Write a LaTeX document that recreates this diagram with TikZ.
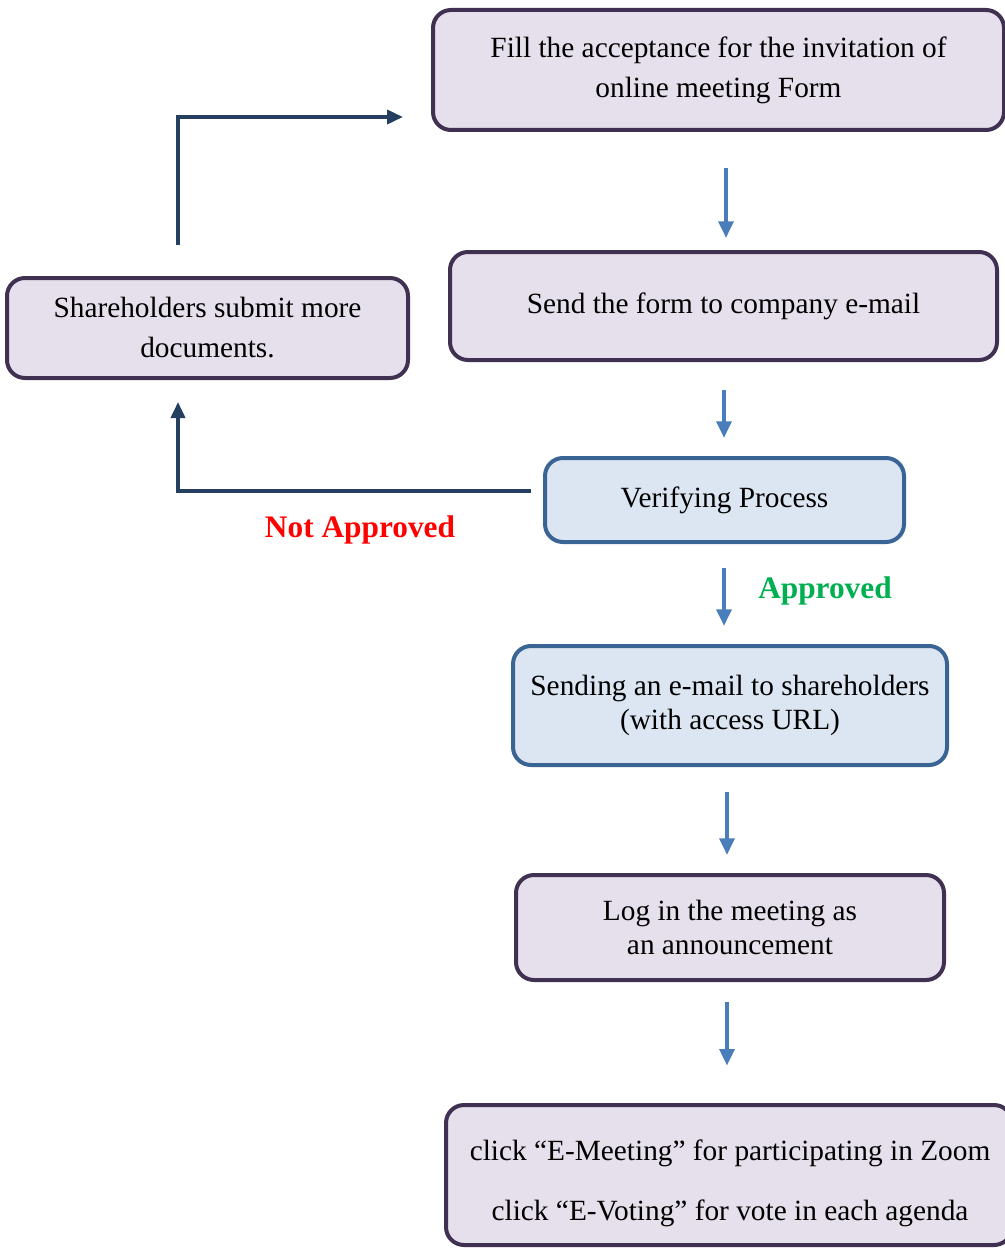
\documentclass[tikz,border=0pt]{standalone}
\usepackage{fontspec}
\setmainfont{Liberation Serif}
\usetikzlibrary{arrows.meta}
\definecolor{pborder}{HTML}{403152}
\definecolor{pfill}{HTML}{E5E0EC}
\definecolor{bborder}{HTML}{3A6494}
\definecolor{bfill}{HTML}{DCE6F2}
\definecolor{barrowc}{HTML}{4A7EBB}
\definecolor{navy}{HTML}{243F60}
\definecolor{okgreen}{HTML}{00B050}
\tikzset{
  pbox/.style={draw=pborder, fill=pfill, line width=3pt, rounded corners=13.5pt, align=center, inner sep=0pt, font=\fontsize{22}{30}\selectfont},
  bbox/.style={draw=bborder, fill=bfill, line width=3pt, rounded corners=13.5pt, align=center, inner sep=0pt, font=\fontsize{22}{30}\selectfont},
  barrow/.style={draw=barrowc, fill=barrowc, line width=3pt, -{Triangle[width=11pt,length=12.5pt]}},
  narrow/.style={draw=navy, line width=2.8pt, -{Triangle[width=10.5pt,length=12pt]}},
  lbl/.style={font=\fontsize{23.5}{28}\selectfont\bfseries, inner sep=0pt}
}
\begin{document}
\begin{tikzpicture}[x=0.75pt,y=-0.75pt]
\useasboundingbox (0,0) rectangle (1005,1248);
% boxes
\node[pbox, minimum width=571*0.75pt, minimum height=120*0.75pt] (fill) at (718.5,70) {Fill the acceptance for the invitation of\\online meeting Form};
\node[pbox, minimum width=547*0.75pt, minimum height=108*0.75pt] (send) at (723.5,306) {Send the form to company e-mail};
\node[pbox, minimum width=401*0.75pt, minimum height=100*0.75pt] (share) at (207.5,328) {Shareholders submit more\\documents.};
\node[bbox, minimum width=359*0.75pt, minimum height=84*0.75pt] (verify) at (724.5,500) {Verifying Process};
\node[bbox, minimum width=434*0.75pt, minimum height=119*0.75pt, font=\fontsize{22}{25.5}\selectfont] (mail) at (730,705.5) {Sending an e-mail to shareholders\\(with access URL)};
\node[pbox, minimum width=428*0.75pt, minimum height=105*0.75pt, font=\fontsize{22}{25}\selectfont] (login) at (730,927.5) {Log in the meeting as\\an announcement};
\node[pbox, minimum width=566*0.75pt, minimum height=140*0.75pt] (click) at (729,1175) {};
\node[align=center, inner sep=0pt, font=\fontsize{22}{45}\selectfont] (clicktxt) at (730,1183) {click “E-Meeting” for participating in Zoom\\click “E-Voting” for vote in each agenda};
% helper x-coordinates
\coordinate (x726) at (726,0);
\coordinate (x724) at (724,0);
\coordinate (x727) at (727,0);
\coordinate (x178) at (178,0);
% blue arrows
\draw[barrow, shorten <=27pt, shorten >=9pt] (fill.south -| x726) -- (send.north -| x726);
\draw[barrow, shorten <=21pt, shorten >=13.5pt] (send.south -| x724) -- (verify.north -| x724);
\draw[barrow, shorten <=18pt, shorten >=13.5pt] (verify.south -| x724) -- (mail.north -| x724);
\draw[barrow, shorten <=19pt, shorten >=13.5pt] (mail.south -| x727) -- (login.north -| x727);
\draw[barrow, shorten <=15pt, shorten >=28pt] (login.south -| x727) -- (click.north -| x727);
% navy loop arrows
\coordinate (loopA) at (178,117);
\coordinate (loopB) at (178,491);
\draw[narrow, shorten <=23pt, shorten >=21pt] (share.north -| x178) -- (loopA) -- (loopA -| fill.west);
\draw[narrow, shorten <=9pt, shorten >=16.5pt] (verify.west |- loopB) -- (loopB) -- (share.south -| x178);
% labels
\node[lbl, text=red] (notok) at (360,530) {Not Approved};
\node[lbl, text=okgreen] (ok) at (825,591) {Approved};
\end{tikzpicture}
\end{document}
